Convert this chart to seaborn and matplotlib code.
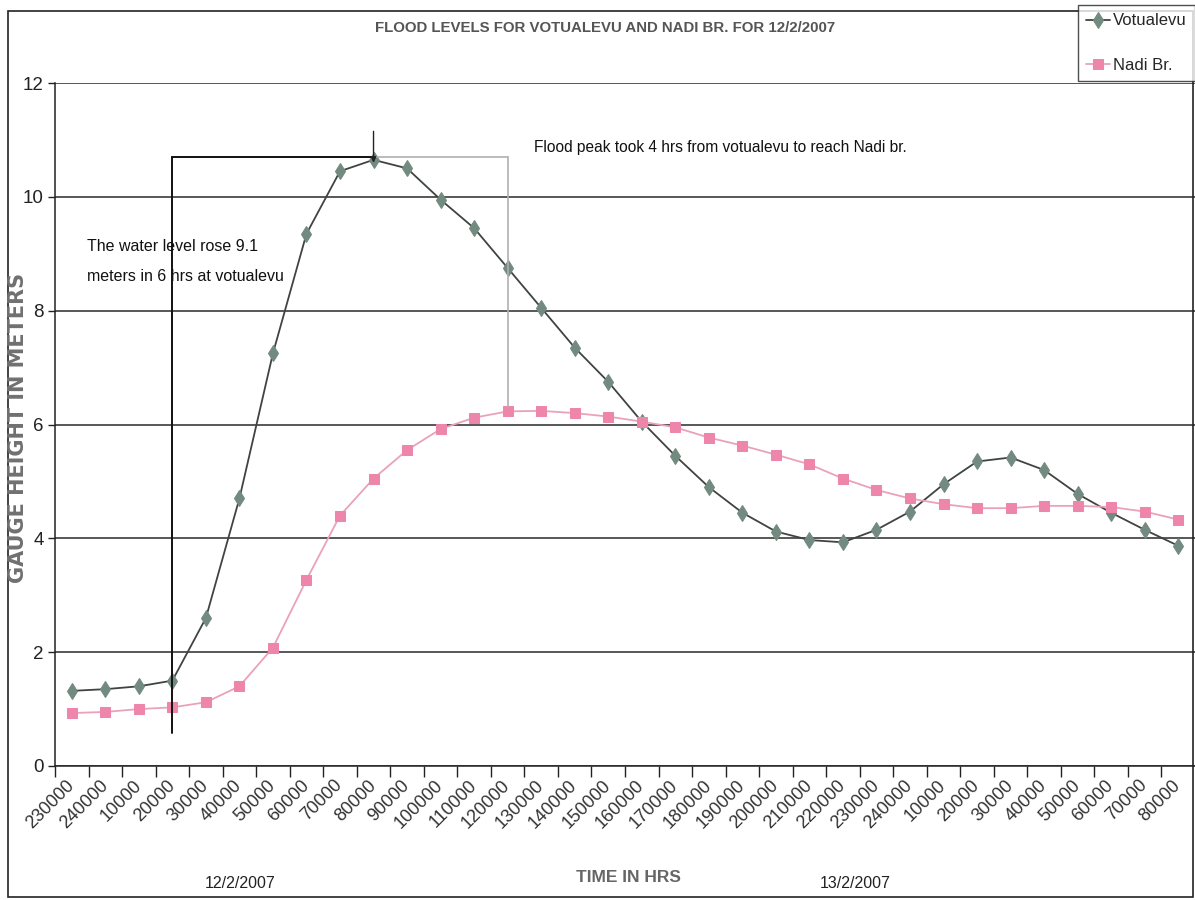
import numpy as np
import pandas as pd
import matplotlib
matplotlib.use("Agg")
import matplotlib.pyplot as plt
from matplotlib.patches import Rectangle
import seaborn as sns

# Time of reading (HHMMSS style, as logged) and gauge heights in metres
time_labels = ["230000", "240000", "10000", "20000", "30000", "40000", "50000",
               "60000", "70000", "80000", "90000", "100000", "110000", "120000",
               "130000", "140000", "150000", "160000", "170000", "180000",
               "190000", "200000", "210000", "220000", "230000", "240000",
               "10000", "20000", "30000", "40000", "50000", "60000", "70000",
               "80000"]
votualevu = [1.32, 1.35, 1.40, 1.50, 2.60, 4.70, 7.25, 9.35, 10.45, 10.65,
             10.50, 9.95, 9.45, 8.75, 8.05, 7.35, 6.75, 6.05, 5.45, 4.90,
             4.45, 4.12, 3.97, 3.93, 4.15, 4.47, 4.95, 5.35, 5.42, 5.20,
             4.78, 4.45, 4.15, 3.87]
nadi_br = [0.93, 0.95, 1.00, 1.03, 1.12, 1.40, 2.08, 3.27, 4.40, 5.05,
           5.55, 5.92, 6.12, 6.23, 6.24, 6.20, 6.14, 6.05, 5.95, 5.77,
           5.63, 5.47, 5.30, 5.05, 4.85, 4.70, 4.60, 4.53, 4.53, 4.57,
           4.57, 4.55, 4.47, 4.33]
series_names = ["Votualevu", "Nadi Br."]
y_ticks = [0, 2, 4, 6, 8, 10, 12]

sns.set_theme(style="white")
sans = ["Liberation Sans", "DejaVu Sans"]
plt.rcParams["font.family"] = sans

W, H = 1195, 900
fig = plt.figure(figsize=(W / 100, H / 100), dpi=100)
fig.patch.set_facecolor("white")
ax = fig.add_axes([55 / W, 1 - 766 / H, (W - 55) / W, (766 - 83) / H])

pos = np.arange(len(time_labels))
df = pd.DataFrame({"pos": np.concatenate([pos, pos]),
                   "height": votualevu + nadi_br,
                   "station": [series_names[0]] * len(pos) + [series_names[1]] * len(pos)})

line_colors = {"Votualevu": "#3f4442", "Nadi Br.": "#eaa2ba"}
marker_colors = {"Votualevu": "#728a80", "Nadi Br.": "#ee85ab"}
markers = {"Votualevu": "d", "Nadi Br.": "s"}
msizes = {"Votualevu": 8.5, "Nadi Br.": 7}

handles = []
for name in series_names:
    sub = df[df["station"] == name]
    sns.lineplot(data=sub, x="pos", y="height", ax=ax, sort=False,
                 color=line_colors[name], lw=1.3, marker=markers[name],
                 markersize=msizes[name], markerfacecolor=marker_colors[name],
                 markeredgecolor=marker_colors[name], label=name, legend=False)
    handles.append(ax.lines[-1])

ax.set_xlim(-0.5, len(pos) - 0.5)
ax.set_ylim(0, 12)
ax.set_yticks(y_ticks)
ax.set_yticklabels([str(t) for t in y_ticks], fontsize=13.5, color="#222")
ax.yaxis.grid(True, color="#2a2a2a", lw=1.1)
ax.xaxis.grid(False)
ax.set_axisbelow(True)

# category boundaries carry the tick marks; labels sit under each category
ax.set_xticks(pos - 0.5, minor=False)
ax.set_xticklabels([])
ax.set_xticks(pos, minor=True)
ax.set_xticklabels(time_labels, minor=True, rotation=45, ha="right", va="center",
                   rotation_mode="anchor", fontsize=13, color="#333")
ax.tick_params(axis="x", which="major", direction="out", length=8, width=1, color="#222", bottom=True)
ax.tick_params(axis="x", which="minor", length=0, pad=12)
ax.tick_params(axis="y", direction="out", length=5, width=1, color="#222", left=True, pad=3)

for side in ["top", "right"]:
    ax.spines[side].set_visible(False)
for side in ["left", "bottom"]:
    ax.spines[side].set_color("#222")
    ax.spines[side].set_linewidth(1.1)
ax.set_xlabel("")
ax.set_ylabel("")

# annotation box: start of rise, peak and arrival at Nadi Br.
ax.plot([3, 3], [0.58, 10.7], color="#111", lw=1.4)
ax.plot([3, 9], [10.7, 10.7], color="#111", lw=1.4)
ax.plot([9, 13], [10.7, 10.7], color="#b0b0b0", lw=1.2)
ax.plot([13, 13], [10.7, 6.3], color="#b0b0b0", lw=1.2)
ax.annotate("", xy=(9, 10.55), xytext=(9, 11.2),
            arrowprops=dict(arrowstyle="-|>", color="#222", lw=1.0, mutation_scale=8))

ax.text(0.45, 9.12, "The water level rose 9.1", fontsize=11.5,
        color="#111", va="center", ha="left")
ax.text(0.45, 8.6, "meters in 6 hrs at votualevu", fontsize=11.5,
        color="#111", va="center", ha="left")
ax.text(13.8, 10.87, "Flood peak took 4 hrs from votualevu to reach Nadi br.",
        fontsize=11.2, color="#111", va="center", ha="left")

fig.text(605 / W, 1 - 28 / H, "FLOOD LEVELS FOR VOTUALEVU AND NADI BR. FOR 12/2/2007",
         ha="center", va="center", fontweight="bold", fontsize=10.8,
         color="#555")
fig.text(18 / W, 1 - 428 / H, "GAUGE HEIGHT IN METERS", rotation=90, ha="center",
         va="center", fontweight="bold", fontsize=15, color="#707070",
         family=["DejaVu Sans"])
fig.text(628 / W, 1 - 877 / H, "TIME IN HRS", ha="center", va="center",
         fontweight="bold", fontsize=12.5, color="#666")
fig.text(240 / W, 1 - 884 / H, "12/2/2007", ha="center", va="center",
         fontsize=11.5, color="#222")
fig.text(855 / W, 1 - 884 / H, "13/2/2007", ha="center", va="center",
         fontsize=11.5, color="#222")

leg = fig.legend(handles, series_names, loc="upper right",
                 bbox_to_anchor=(1195 / W, 1 - 5 / H), frameon=True, fancybox=False,
                 prop={"size": 12}, handlelength=1.4,
                 handletextpad=0.2, borderpad=0.5, labelspacing=1.75,
                 borderaxespad=0)
leg.get_frame().set_edgecolor("#222")
leg.get_frame().set_linewidth(1.0)

fig.patches.append(Rectangle((8 / W, 1 - 897 / H), (1193 - 8) / W, (897 - 11) / H,
                             transform=fig.transFigure, fill=False,
                             edgecolor="#222", lw=1.2))

fig.savefig("out.png", dpi=100)
